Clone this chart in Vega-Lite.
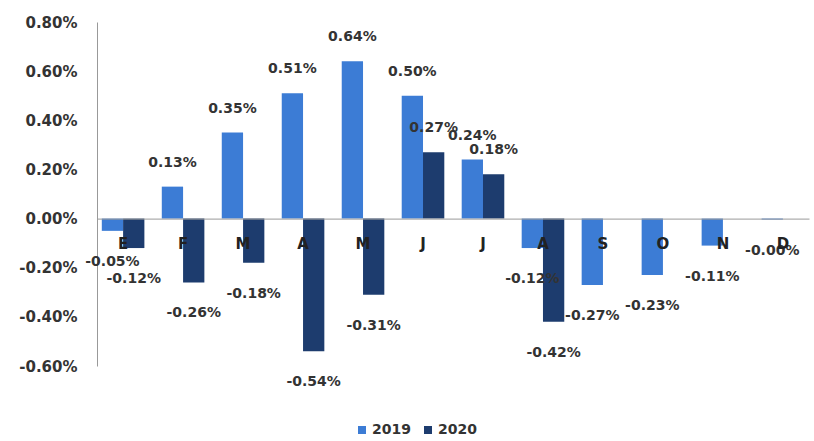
{
  "$schema": "https://vega.github.io/schema/vega-lite/v6.json",
  "width": 712,
  "height": 344,
  "autosize": "none",
  "padding": {"left": 97, "top": 22, "right": 5, "bottom": 75},
  "config": {
    "view": {"stroke": null},
    "font": "DejaVu Sans",
    "locale": {"number": {"decimal": ".", "thousands": ",", "grouping": [3], "currency": ["$", ""], "minus": "-"}}
  },
  "data": {
    "values": [
      {"month": "Ene", "year": "2019", "value": -0.0005, "label": "-0.05%"},
      {"month": "Feb", "year": "2019", "value": 0.0013, "label": "0.13%"},
      {"month": "Mar", "year": "2019", "value": 0.0035, "label": "0.35%"},
      {"month": "Abr", "year": "2019", "value": 0.0051, "label": "0.51%"},
      {"month": "May", "year": "2019", "value": 0.0064, "label": "0.64%"},
      {"month": "Jun", "year": "2019", "value": 0.0050, "label": "0.50%"},
      {"month": "Jul", "year": "2019", "value": 0.0024, "label": "0.24%"},
      {"month": "Ago", "year": "2019", "value": -0.0012, "label": "-0.12%"},
      {"month": "Sep", "year": "2019", "value": -0.0027, "label": "-0.27%"},
      {"month": "Oct", "year": "2019", "value": -0.0023, "label": "-0.23%"},
      {"month": "Nov", "year": "2019", "value": -0.0011, "label": "-0.11%"},
      {"month": "Dic", "year": "2019", "value": -0.00004, "label": "-0.00%"},
      {"month": "Ene", "year": "2020", "value": -0.0012, "label": "-0.12%"},
      {"month": "Feb", "year": "2020", "value": -0.0026, "label": "-0.26%"},
      {"month": "Mar", "year": "2020", "value": -0.0018, "label": "-0.18%"},
      {"month": "Abr", "year": "2020", "value": -0.0054, "label": "-0.54%"},
      {"month": "May", "year": "2020", "value": -0.0031, "label": "-0.31%"},
      {"month": "Jun", "year": "2020", "value": 0.0027, "label": "0.27%"},
      {"month": "Jul", "year": "2020", "value": 0.0018, "label": "0.18%"},
      {"month": "Ago", "year": "2020", "value": -0.0042, "label": "-0.42%"}
    ]
  },
  "encoding": {
    "x": {
      "field": "month",
      "type": "nominal",
      "sort": ["Ene", "Feb", "Mar", "Abr", "May", "Jun", "Jul", "Ago", "Sep", "Oct", "Nov", "Dic"],
      "scale": {"paddingInner": 0.29, "paddingOuter": 0.08},
      "axis": {
        "title": null,
        "offset": -147.4,
        "domainColor": "#999999",
        "ticks": false,
        "labelPadding": 18,
        "labelAngle": 0,
        "labelFontSize": 15,
        "labelFontWeight": "bold",
        "labelColor": "#222222",
        "labelExpr": "substring(datum.label, 0, 1)",
        "zindex": 1
      }
    },
    "xOffset": {"field": "year", "type": "nominal", "scale": {"domain": ["2019", "2020"], "paddingInner": 0}},
    "y": {
      "field": "value",
      "type": "quantitative",
      "scale": {"domain": [-0.006, 0.008], "nice": false},
      "axis": {
        "title": null,
        "values": [-0.006, -0.004, -0.002, 0, 0.002, 0.004, 0.006, 0.008],
        "format": ".2%",
        "ticks": false,
        "grid": false,
        "labelPadding": 20,
        "domainColor": "#999999",
        "labelFontSize": 15,
        "labelFontWeight": "bold",
        "labelColor": "#333333"
      }
    }
  },
  "layer": [
    {
      "mark": {"type": "bar"},
      "encoding": {
        "color": {
          "field": "year",
          "type": "nominal",
          "scale": {"domain": ["2019", "2020"], "range": ["#3C7CD5", "#1D3C6E"]},
          "legend": {
            "title": null,
            "orient": "none",
            "legendX": 258,
            "legendY": 401,
            "direction": "horizontal",
            "symbolType": "square",
            "symbolSize": 64,
            "labelOffset": 3,
            "labelFontSize": 14,
            "labelFontWeight": "bold",
            "labelColor": "#333333",
            "columnPadding": 10
          }
        }
      }
    },
    {
      "transform": [{"filter": "datum.value >= 0"}],
      "mark": {"type": "text", "baseline": "bottom", "dy": -17, "fontSize": 14, "fontWeight": "bold", "color": "#333333"},
      "encoding": {"text": {"field": "label", "type": "nominal"}}
    },
    {
      "transform": [{"filter": "datum.value < 0"}],
      "mark": {"type": "text", "baseline": "top", "dy": 24, "fontSize": 14, "fontWeight": "bold", "color": "#333333"},
      "encoding": {"text": {"field": "label", "type": "nominal"}}
    }
  ]
}
